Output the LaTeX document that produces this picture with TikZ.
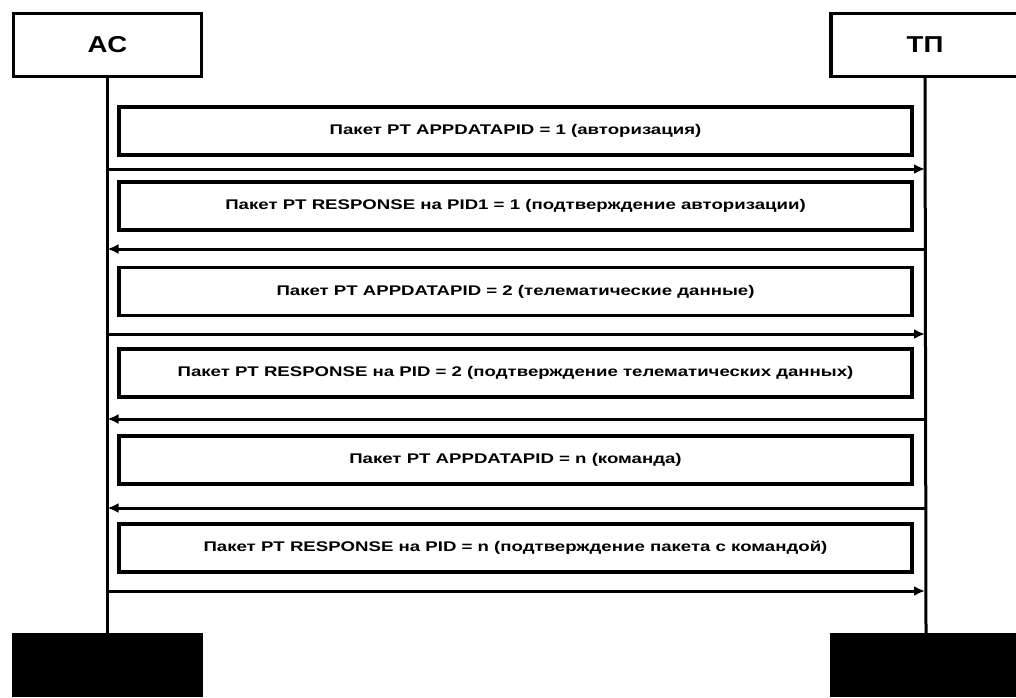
\documentclass[tikz,border=0pt]{standalone}
\usepackage{fontspec}
\setmainfont{Liberation Sans}
\newfontfamily\msgfont{Liberation Sans}[FakeStretch=1.33]
\newfontfamily\actfont{Liberation Sans}[FakeStretch=1.2]
\usetikzlibrary{arrows.meta}
\begin{document}
\begin{tikzpicture}[x=1pt,y=-1pt,
  actor/.style={draw,line width=3.2pt,minimum width=188pt,minimum height=63pt,inner sep=0pt,font=\actfont\bfseries\fontsize{23}{23}\selectfont},
  endbox/.style={fill=black,draw=none,inner sep=0pt},
  msg/.style={draw,line width=3.2pt,minimum width=793pt,minimum height=48pt,inner sep=0pt,font=\msgfont\bfseries\fontsize{14}{16}\selectfont},
  life/.style={line width=3pt},
  arr/.style={line width=3pt,-{Latex[length=11pt,width=10pt]}}]
\useasboundingbox (0,0) rectangle (1016,697);
\fill[white] (0,0) rectangle (1016,697);
% actors
\node[actor] (ac) at (107.5,45) {AC};
\node[actor] (tp) at (925,45) {ТП};
% end boxes
\node[endbox,minimum width=191pt,minimum height=64pt] (acend) at (107.5,665) {};
\node[endbox,minimum width=192pt,minimum height=64pt] (tpend) at (926,665) {};
% lifelines
\draw[life] (ac.south) -- (acend.north);
\draw[life] (tp.south) -- (tpend.north);
% messages
\node[msg] (m1) at (515.5,131) {Пакет PT APPDATAPID = 1 (авторизация)};
\node[msg] (m2) at (515.5,206) {Пакет PT RESPONSE на PID1 = 1 (подтверждение авторизации)};
\node[msg] (m3) at (515.5,291.5) {Пакет PT APPDATAPID = 2 (телематические данные)};
\node[msg] (m4) at (515.5,373) {Пакет PT RESPONSE на PID = 2 (подтверждение телематических данных)};
\node[msg] (m5) at (515.5,460) {Пакет PT APPDATAPID = n (команда)};
\node[msg] (m6) at (515.5,548) {Пакет PT RESPONSE на PID = n (подтверждение пакета с командой)};
% arrow end points
\coordinate (l1) at (107.5,169); \coordinate (r1) at (925,169);
\coordinate (l2) at (107.5,249); \coordinate (r2) at (925,249);
\coordinate (l3) at (107.5,334); \coordinate (r3) at (925,334);
\coordinate (l4) at (107.5,419); \coordinate (r4) at (925,419);
\coordinate (l5) at (107.5,508); \coordinate (r5) at (925,508);
\coordinate (l6) at (107.5,591); \coordinate (r6) at (925,591);
\draw[arr] (l1) -- (r1);
\draw[arr] (r2) -- (l2);
\draw[arr] (l3) -- (r3);
\draw[arr] (r4) -- (l4);
\draw[arr] (r5) -- (l5);
\draw[arr] (l6) -- (r6);
\end{tikzpicture}
\end{document}
